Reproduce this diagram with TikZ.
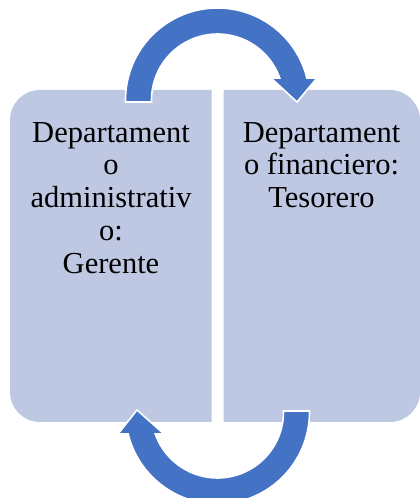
\documentclass[tikz,border=0pt]{standalone}
\usepackage{fontspec}
\setmainfont{Liberation Serif}
\definecolor{panelfill}{RGB}{190,200,226}
\definecolor{cyclearrow}{RGB}{68,114,196}
\begin{document}
\begin{tikzpicture}[x=1pt,y=1pt,
  panel/.style={fill=panelfill},
  bentarrow/.style={fill=cyclearrow,draw=white,line width=1.6pt,line join=miter},
  label/.style={inner sep=0pt,align=center,anchor=north,font=\fontsize{30.5}{32.8}\selectfont}]
\useasboundingbox (0,0) rectangle (420,498);

% two panels, rounded only on their outer corners
\fill[panel] (211.5,408) -- (40,408) arc[start angle=90,end angle=180,radius=30]
  -- (10,106) arc[start angle=180,end angle=270,radius=30] -- (211.5,76) -- cycle;
\fill[panel] (223.5,408) -- (390,408) arc[start angle=90,end angle=0,radius=30]
  -- (420,106) arc[start angle=0,end angle=-90,radius=30] -- (223.5,76) -- cycle;

\node[label] (admin) at (111,376) {Departament\\o\\administrativ\\o:\\Gerente};
\node[label] (fin) at (321.5,376) {Departament\\o financiero:\\Tesorero};

% upper arrow: from the left panel over to the right panel
\draw[bentarrow] (125.5,396) -- (125.5,398) arc[start angle=180,end angle=13.8,radius=92]
  -- (317,420) -- (297,396) -- (271,420) -- (279.7,420)
  arc[start angle=19.5,end angle=180,radius=66] -- (151.5,396) -- cycle;

% lower arrow: from the right panel back under to the left panel
\draw[bentarrow] (309.5,87) -- (309.5,86) arc[start angle=0,end angle=-166.2,radius=92]
  -- (118,64) -- (137,88) -- (164,64) -- (155.3,64)
  arc[start angle=-160.5,end angle=0,radius=66] -- (283.5,87) -- cycle;
\end{tikzpicture}
\end{document}
